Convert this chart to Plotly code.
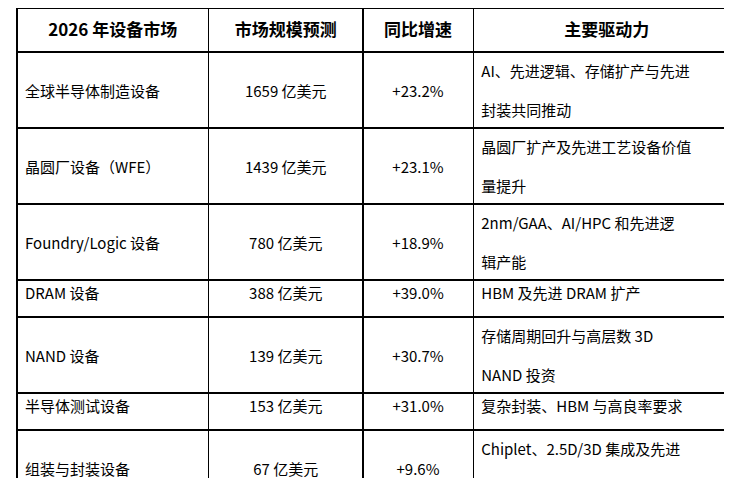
import plotly.graph_objects as go

headers = ["2026 年设备市场", "市场规模预测", "同比增速", "主要驱动力"]
segments = ["全球半导体制造设备", "晶圆厂设备（WFE）", "Foundry/Logic 设备", "DRAM 设备",
            "NAND 设备", "半导体测试设备", "组装与封装设备"]
market = ["1659 亿美元", "1439 亿美元", "780 亿美元", "388 亿美元", "139 亿美元", "153 亿美元", "67 亿美元"]
growth = ["+23.2%", "+23.1%", "+18.9%", "+39.0%", "+30.7%", "+31.0%", "+9.6%"]
drivers = ["AI、先进逻辑、存储扩产与先进|封装共同推动", "晶圆厂扩产及先进工艺设备价值|量提升",
           "2nm/GAA、AI/HPC 和先进逻|辑产能", "HBM 及先进 DRAM 扩产",
           "存储周期回升与高层数 3D|NAND 投资", "复杂封装、HBM 与高良率要求",
           "Chiplet、2.5D/3D 集成及先进|封装扩张"]

two = ["|" in d for d in drivers]
def pad(lst):
    return [("&nbsp;<br>" + s + "<br>&nbsp;") if t else s for s, t in zip(lst, two)]
drv = [d.replace("|", "<br>&nbsp;<br>") for d in drivers]

font = "Microsoft YaHei, Noto Sans CJK SC, sans-serif"
fig = go.Figure(go.Table(
    columnwidth=[191, 154, 110, 266],
    header=dict(values=["<b>%s</b>" % h for h in headers], align="center",
                fill_color="white", line=dict(color="black", width=1.3),
                font=dict(family=font, size=17, color="black"), height=44),
    cells=dict(values=[pad(segments), pad(market), pad(growth), drv],
               align=["left", "center", "center", "left"],
               fill_color="white", line=dict(color="black", width=1.3),
               font=dict(family=font, size=15, color="black"), height=37),
))
fig.update_layout(width=732, height=478, margin=dict(l=9, r=0, t=0, b=0),
                  paper_bgcolor="white")
fig.write_html("out.html")
